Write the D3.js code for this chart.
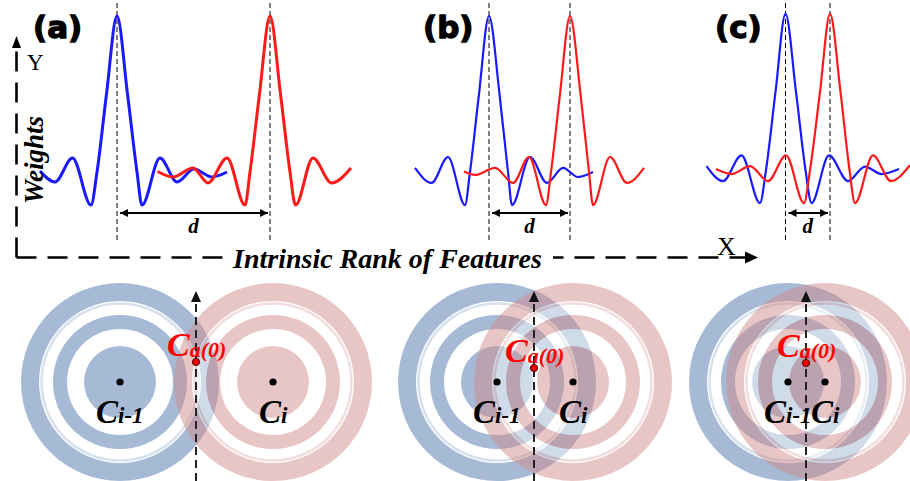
<!DOCTYPE html>
<html>
<head>
<meta charset="utf-8">
<script src="https://cdn.jsdelivr.net/npm/d3@7"></script>
<style>
  body { margin: 0; background: #fff; }
  svg { display: block; }
</style>
</head>
<body>
<div id="chart"></div>
<script>
// ---------- data (rank, weight) ----------
const panelLabels = ['(a)', '(b)', '(c)'];

const blueA = [[40,0.006],[55,-0.064],[72.5,0.09],[91,-0.212],[97,0],[106.5,0.5],[117,1],[127.5,0.5],[137,0],[142,-0.212],[160,0.09],[177,-0.064],[194,0.019],[212,-0.032],[227,0]];
const redA  = [[157.5,0.003],[173,-0.032],[193,0.026],[208,-0.07],[227,0.09],[245,-0.212],[250,0],[259.5,0.5],[270,1],[280.5,0.5],[290,0],[295.5,-0.212],[313,0.09],[331.5,-0.07],[351,0.026]];

const blueB = [[415,0.026],[431.5,-0.07],[448,0.096],[465,-0.212],[470,0],[479,0.5],[489,1],[499.5,0.5],[508,0],[512,-0.212],[530,0.096],[547,-0.07],[563,0.026],[578,-0.032],[593,0]];
const redB  = [[464,0.003],[475,-0.019],[495,0.026],[513,-0.07],[529,0.096],[546,-0.212],[551,0],[560,0.5],[570,1],[580.5,0.5],[589,0],[593,-0.212],[610,0.096],[627,-0.07],[644,0.026]];

const blueC = [[706.5,0.038],[723,-0.058],[741.5,0.106],[760,-0.199],[766,0.013],[775.5,0.513],[785.5,1.013],[796,0.513],[805.5,0.013],[811.5,-0.199],[829,0.106],[848,-0.058],[865,0.035],[881.5,-0.013],[899,0.019]];
const redC  = [[716,0.019],[731.5,-0.013],[750,0.038],[768,-0.058],[786,0.106],[804,-0.199],[810,0.013],[820,0.513],[830,1.013],[840.5,0.513],[849.5,0.013],[855,-0.199],[873,0.106],[891,-0.058],[910,0.045]];

// cluster centres (bottom row), same rank axis
const prevCenters = [120, 497, 788];   // C_{i-1}
const currCenters = [273, 573, 825];   // C_i
const anchorRanks = [196, 534, 806];   // C_a(0)

// ---------- layout ----------
const W = 910, H = 481;
const serif = '"Liberation Serif", "Times New Roman", serif';
const blueCol = '#1a1aff', redCol = '#ff1a1a';

const svg = d3.select('#chart').append('svg')
  .attr('width', W)
  .attr('height', H);

const x = d3.scaleLinear().domain([0, 910]).range([0, W]);
const y = d3.scaleLinear().domain([-0.3, 1]).range([218.8, 16]);

const defs = svg.append('defs');
defs.append('marker')
  .attr('id', 'dHead')
  .attr('viewBox', '0 0 10 10')
  .attr('refX', 10).attr('refY', 5)
  .attr('markerWidth', 10).attr('markerHeight', 8)
  .attr('markerUnits', 'userSpaceOnUse')
  .attr('orient', 'auto-start-reverse')
  .append('path').attr('d', 'M0,0L10,5L0,10z').attr('fill', '#000');

// ---------- top: weight curves ----------
const panels = [
  { blue: blueA, red: redA, lw: 3 },
  { blue: blueB, red: redB, lw: 2.2 },
  { blue: blueC, red: redC, lw: 2.2 }
];

const valueline = d3.line()
  .x(d => x(d[0]))
  .y(d => y(d[1]))
  .curve(d3.curveMonotoneX);

const curvesG = svg.append('g').attr('class', 'curves');

panels.forEach((p, i) => {
  const bPeak = d3.greatest(p.blue, d => d[1])[0];
  const rPeak = d3.greatest(p.red, d => d[1])[0];

  // peak guides
  [bPeak, rPeak].forEach(r => {
    curvesG.append('line')
      .attr('x1', x(r)).attr('x2', x(r))
      .attr('y1', 3).attr('y2', 243)
      .attr('stroke', '#000')
      .attr('stroke-width', 1)
      .attr('stroke-dasharray', '5,3');
  });

  curvesG.append('path')
    .datum(p.blue)
    .attr('fill', 'none')
    .attr('stroke', blueCol)
    .attr('stroke-width', p.lw)
    .attr('d', valueline);

  curvesG.append('path')
    .datum(p.red)
    .attr('fill', 'none')
    .attr('stroke', redCol)
    .attr('stroke-width', p.lw)
    .attr('d', valueline);

  // distance d
  const ay = y(0) + 41;
  curvesG.append('line')
    .attr('x1', x(bPeak) + 3).attr('x2', x(rPeak) - 2)
    .attr('y1', ay).attr('y2', ay)
    .attr('stroke', '#000')
    .attr('stroke-width', 2)
    .attr('marker-start', 'url(#dHead)')
    .attr('marker-end', 'url(#dHead)');

  curvesG.append('text')
    .attr('x', (x(bPeak) + x(rPeak)) / 2)
    .attr('y', ay + 20)
    .attr('text-anchor', 'middle')
    .attr('font-family', serif)
    .attr('font-weight', 'bold')
    .attr('font-style', 'italic')
    .attr('font-size', 21)
    .text('d');
});

// panel tags
const tagX = [33, 423, 715];
panelLabels.forEach((t, i) => {
  svg.append('text')
    .attr('x', tagX[i]).attr('y', 38)
    .attr('font-family', '"DejaVu Sans", sans-serif')
    .attr('font-weight', 'bold')
    .attr('font-size', 31)
    .attr('stroke', '#000')
    .attr('stroke-width', 1.3)
    .text(t);
});

// ---------- dashed axes ----------
const axisG = svg.append('g').attr('class', 'axes');
const ox = 16.5, oy = 257.5;

axisG.append('path')
  .attr('d', `M${ox},${oy}V47`)
  .attr('fill', 'none').attr('stroke', '#000')
  .attr('stroke-width', 2.6).attr('stroke-dasharray', '20,11');
axisG.append('path')
  .attr('d', `M${ox},${oy}H746`)
  .attr('fill', 'none').attr('stroke', '#000')
  .attr('stroke-width', 2.6).attr('stroke-dasharray', '20,11');
axisG.append('path')
  .attr('d', `M${ox},36L${ox + 4.5},48L${ox - 4.5},48Z`)
  .attr('fill', '#000');
axisG.append('path')
  .attr('d', `M758,${oy}L745,${oy - 6}L745,${oy + 6}Z`)
  .attr('fill', '#000');

axisG.append('text')
  .attr('x', 27).attr('y', 70)
  .attr('font-family', serif).attr('font-size', 23)
  .text('Y');
axisG.append('text')
  .attr('x', 717).attr('y', 255)
  .attr('font-family', serif).attr('font-size', 26)
  .text('X');

const xTitle = axisG.append('text')
  .attr('x', 233).attr('y', 268)
  .attr('font-family', serif)
  .attr('font-weight', 'bold').attr('font-style', 'italic')
  .attr('font-size', 28)
  .text('Intrinsic Rank of Features');
const tb = xTitle.node().getBBox();
axisG.insert('rect', 'text')
  .attr('x', tb.x - 3).attr('y', oy - 4)
  .attr('width', tb.width + 14).attr('height', 8)
  .attr('fill', '#fff');

axisG.append('text')
  .attr('transform', 'translate(43,160) rotate(-90)')
  .attr('text-anchor', 'middle')
  .attr('font-family', serif)
  .attr('font-weight', 'bold').attr('font-style', 'italic')
  .attr('font-size', 27)
  .text('Weights');

// ---------- bottom: cluster rings ----------
const cy = 382;
const ringR = { outer: 99, gap1: 81, glint: 78.5, mid: 67, gap2: 53, core: 36 };
const blueRing = { fill: '#a6bad5', glint: '#d8e1ec', opacity: 1 };
const redRing  = { fill: 'rgb(209,138,136)', glint: 'rgb(230,188,188)', opacity: 0.48 };

const bottom = svg.append('g').attr('class', 'clusters');

function drawCluster(cx, st) {
  const g = bottom.append('g').attr('opacity', st.opacity);
  g.append('circle').attr('cx', cx).attr('cy', cy).attr('r', ringR.outer).attr('fill', st.fill);
  g.append('circle').attr('cx', cx).attr('cy', cy).attr('r', ringR.gap1).attr('fill', '#fff');
  g.append('circle').attr('cx', cx).attr('cy', cy).attr('r', ringR.glint)
    .attr('fill', 'none').attr('stroke', st.glint).attr('stroke-width', 2.5);
  g.append('circle').attr('cx', cx).attr('cy', cy).attr('r', ringR.mid).attr('fill', st.fill);
  g.append('circle').attr('cx', cx).attr('cy', cy).attr('r', ringR.gap2).attr('fill', '#fff');
  g.append('circle').attr('cx', cx).attr('cy', cy).attr('r', ringR.core).attr('fill', st.fill);
}

prevCenters.forEach(c => drawCluster(x(c), blueRing));
currCenters.forEach(c => drawCluster(x(c), redRing));

const anchorLift = [20, 14, 19];
const labels = svg.append('g').attr('class', 'labels');

anchorRanks.forEach((a, i) => {
  const ax = x(a);
  // dashed arrow through C_a(0)
  labels.append('line')
    .attr('x1', ax).attr('x2', ax)
    .attr('y1', H).attr('y2', 300)
    .attr('stroke', '#222').attr('stroke-width', 2)
    .attr('stroke-dasharray', '8,5');
  labels.append('path')
    .attr('d', `M${ax},291L${ax + 5},302L${ax - 5},302Z`)
    .attr('fill', '#111');

  [prevCenters[i], currCenters[i]].forEach(c => {
    labels.append('circle')
      .attr('cx', x(c)).attr('cy', cy).attr('r', 3.6)
      .attr('fill', '#000');
  });

  const dy = cy - anchorLift[i];
  labels.append('circle')
    .attr('cx', ax).attr('cy', dy).attr('r', 3.6)
    .attr('fill', '#e00').attr('stroke', '#500').attr('stroke-width', 1);

  const ca = labels.append('text')
    .attr('x', ax - 29).attr('y', dy - 6)
    .attr('font-family', serif)
    .attr('font-weight', 'bold').attr('font-style', 'italic')
    .attr('fill', '#f00');
  ca.append('tspan').attr('font-size', 34).text('C');
  ca.append('tspan').attr('font-size', 22).attr('dy', 1).text('a(0)');

  const prev = labels.append('text')
    .attr('x', x(prevCenters[i]) - 24).attr('y', 423)
    .attr('font-family', serif)
    .attr('font-weight', 'bold').attr('font-style', 'italic');
  prev.append('tspan').attr('font-size', 33).text('C');
  prev.append('tspan').attr('font-size', 23).text('i-1');

  const curr = labels.append('text')
    .attr('x', x(currCenters[i]) - 14).attr('y', 423)
    .attr('font-family', serif)
    .attr('font-weight', 'bold').attr('font-style', 'italic');
  curr.append('tspan').attr('font-size', 33).text('C');
  curr.append('tspan').attr('font-size', 23).text('i');
});
</script>
</body>
</html>
